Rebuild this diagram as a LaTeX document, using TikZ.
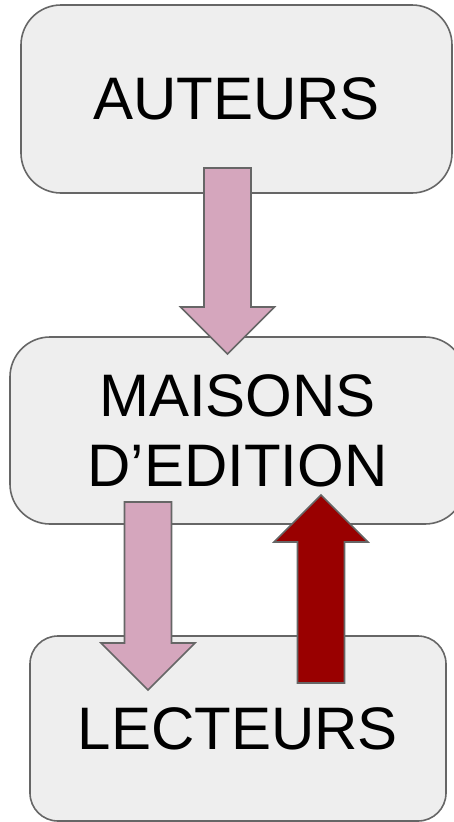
\documentclass[tikz,border=0pt]{standalone}
\usepackage{fontspec}
\setmainfont{Liberation Sans}
\definecolor{boxgray}{HTML}{EEEEEE}
\definecolor{linegray}{HTML}{666666}
\definecolor{lightpink}{HTML}{D5A6BD}
\definecolor{darkred}{HTML}{990000}

\begin{document}
\begin{tikzpicture}[x=1pt,y=-1pt]
    \tikzstyle{role}=[rectangle, draw=linegray, line width=1.6pt, fill=boxgray, inner sep=0pt, font=\fontsize{60}{70}\selectfont, align=center]
    \tikzstyle{flow}=[draw=linegray, line width=1.6pt, line join=miter]

    \clip (0,0) rectangle (454,822);

    \node [role, rounded corners=40pt, minimum width=431pt, minimum height=188pt] (auteurs) at (236.5,99) {AUTEURS};
    \node [role, rounded corners=40pt, minimum width=455pt, minimum height=187pt] (maisons) at (237.5,430.5) {MAISONS\\D'EDITION};
    \node [role, rounded corners=28pt, minimum width=416pt, minimum height=185pt] (lecteurs) at (238,728.5) {LECTEURS};

    % block arrows: centre x / start y / tip y / fill
    \foreach \cx/\ys/\yt/\col in {227.5/168/354/lightpink, 148/502/690/lightpink, 321/683/495/darkred} {
      \pgfmathsetmacro{\hb}{\yt-47*sign(\yt-\ys)}
      \draw [flow, fill=\col] ({\cx-23.5},\ys) -- ({\cx+23.5},\ys) -- ({\cx+23.5},\hb) -- ({\cx+47},\hb)
        -- (\cx,\yt) -- ({\cx-47},\hb) -- ({\cx-23.5},\hb) -- cycle;
    }
\end{tikzpicture}
\end{document}
